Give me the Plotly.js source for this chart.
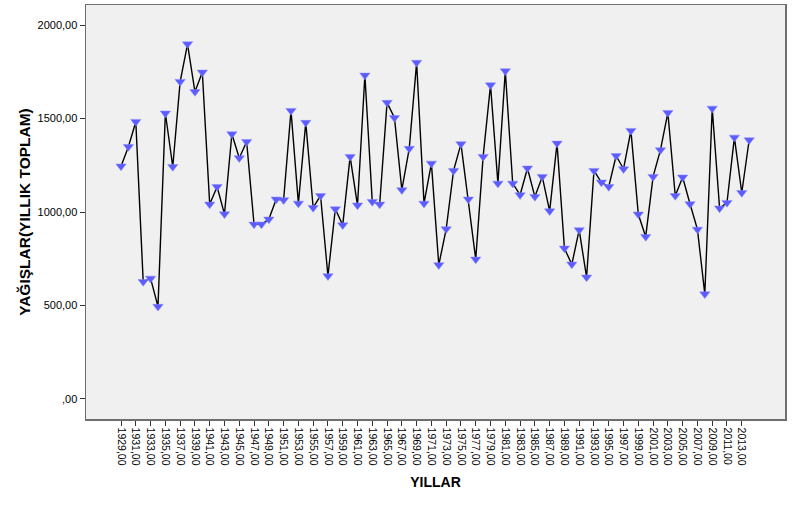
<!DOCTYPE html>
<html>
<head>
<meta charset="utf-8">
<script src="https://cdn.plot.ly/plotly-3.0.1.min.js"></script>
<style>html,body{margin:0;padding:0;background:#fff;}#chart{width:794px;height:505px;}</style>
</head>
<body>
<div id="chart"></div>
<script>
const years = [1929,1930,1931,1932,1933,1934,1935,1936,1937,1938,1939,1940,1941,1942,1943,1944,1945,1946,1947,1948,1949,
1950,1951,1952,1953,1954,1955,1956,1957,1958,1959,1960,1961,1962,1963,1964,1965,1966,1967,1968,1969,
1970,1971,1972,1973,1974,1975,1976,1977,1978,1979,1980,1981,1982,1983,1984,1985,1986,1987,1988,1989,
1990,1991,1992,1993,1994,1995,1996,1997,1998,1999,2000,2001,2002,2003,2004,2005,2006,2007,2008,2009,
2010,2011,2012,2013,2014];
const rainfall = [1245,1349,1483,627,645,494,1528,1242,1697,1898,1643,1747,1041,1135,989,1417,1289,1376,934,934,961,
1068,1064,1542,1046,1478,1023,1087,658,1016,930,1296,1036,1731,1055,1041,1585,1504,1118,1339,1799,
1046,1260,717,909,1221,1364,1068,747,1296,1679,1153,1754,1153,1091,1234,1082,1189,1005,1367,806,
720,904,651,1221,1159,1135,1301,1230,1435,988,868,1189,1332,1531,1087,1186,1043,907,561,1554,
1020,1050,1399,1103,1385];
const xTickVals = [1929,1931,1933,1935,1937,1939,1941,1943,1945,1947,1949,1951,1953,1955,1957,1959,1961,1963,1965,1967,1969,1971,
1973,1975,1977,1979,1981,1983,1985,1987,1989,1991,1993,1995,1997,1999,2001,2003,2005,2007,2009,2011,2013];
const xTickText = ["1929,00","1931,00","1933,00","1935,00","1937,00","1939,00","1941,00","1943,00","1945,00","1947,00","1949,00","1951,00","1953,00","1955,00","1957,00","1959,00","1961,00","1963,00","1965,00","1967,00","1969,00","1971,00",
"1973,00","1975,00","1977,00","1979,00","1981,00","1983,00","1985,00","1987,00","1989,00","1991,00","1993,00","1995,00","1997,00","1999,00","2001,00","2003,00","2005,00","2007,00","2009,00","2011,00","2013,00"];
const yTickVals = [0,500,1000,1500,2000];
const yTickText = [",00","500,00","1000,00","1500,00","2000,00"];

const trace = {
  x: years, y: rainfall, type: 'scatter', mode: 'lines+markers',
  line: {color: '#000000', width: 1.4},
  marker: {symbol: 'triangle-down', size: 9, color: '#5c5cff', line: {color: '#8a8aff', width: 0.5}},
  hoverinfo: 'x+y'
};
const layout = {
  width: 794, height: 505,
  margin: {l: 86, r: 9, t: 5, b: 86, pad: 0},
  paper_bgcolor: '#ffffff', plot_bgcolor: '#f0f0f0',
  showlegend: false,
  font: {family: 'Liberation Sans, Arial, sans-serif', color: '#000'},
  xaxis: {
    range: [1924.26, 2018.85], tickmode: 'array', tickvals: xTickVals, ticktext: xTickText,
    tickangle: 90, tickfont: {size: 10.5, color: '#000'}, ticks: 'outside', ticklen: 5, tickcolor: '#333', tickwidth: 1,
    showgrid: false, zeroline: false, showline: true, linecolor: '#6e6e6e', linewidth: 1.5, mirror: true,
    title: {text: 'YILLAR', font: {size: 14, color: '#000', family: 'Liberation Sans, Arial, sans-serif', weight: 'bold'}, standoff: 12}
  },
  yaxis: {
    range: [-107, 2107], tickmode: 'array', tickvals: yTickVals, ticktext: yTickText,
    tickfont: {size: 11, color: '#000'}, ticks: 'outside', ticklen: 5, tickcolor: '#333', tickwidth: 1,
    showgrid: false, zeroline: false, showline: true, linecolor: '#6e6e6e', linewidth: 1.5, mirror: true,
    title: {text: 'YAĞIŞLAR(YILLIK TOPLAM)', font: {size: 15.5, color: '#000', family: 'Liberation Sans, Arial, sans-serif', weight: 'bold'}, standoff: 3}
  }
};
Plotly.newPlot('chart', [trace], layout, {displayModeBar: false, staticPlot: true});
</script>
</body>
</html>
